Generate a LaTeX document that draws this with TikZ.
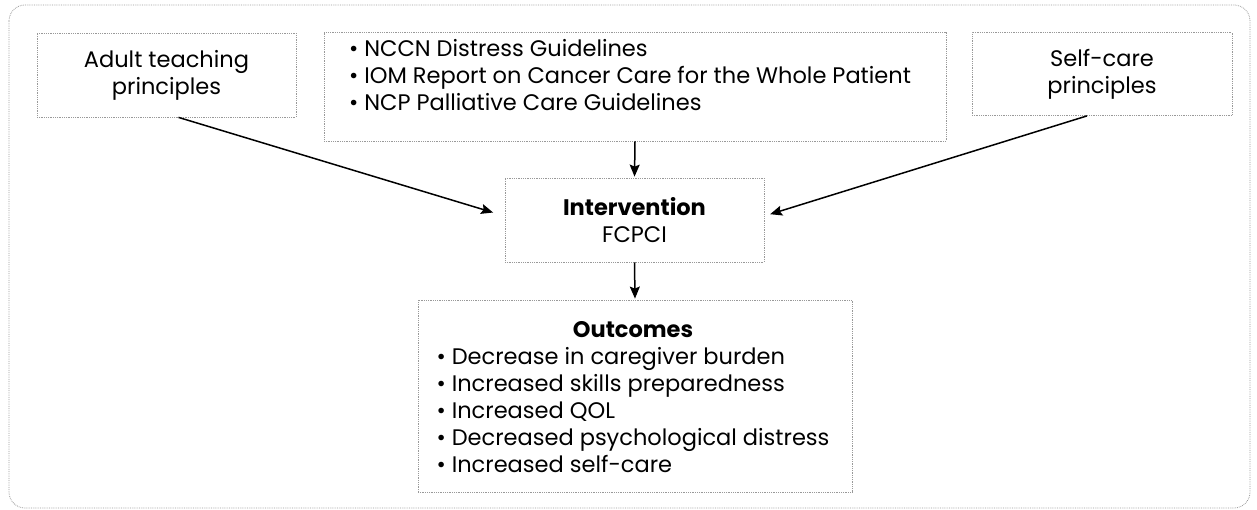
\documentclass[tikz,border=0pt]{standalone}
\usepackage{fontspec}
\setmainfont{Poppins}
\usetikzlibrary{arrows.meta}

\begin{document}
\begin{tikzpicture}[x=1pt,y=-1pt,
    box/.style={draw=gray!80, densely dotted, line width=0.8pt, inner sep=0pt},
    txt/.style={align=center, font=\fontsize{22.5}{27}\selectfont},
    arr/.style={-{Stealth[length=12pt,width=10pt,inset=2pt]}, line width=1.5pt}]

    \useasboundingbox (0,0) rectangle (1257,510);

    % outer frame
    \draw[gray!80, densely dotted, line width=0.8pt, rounded corners=16pt] (9,5) rectangle (1250,508);

    % top row
    \node[box, txt, minimum width=259pt, minimum height=84pt] (adult) at (166.5,75) {Adult teaching\\principles};
    \node[box, minimum width=622pt, minimum height=109pt] (guide) at (635,86.5) {};
    \node[txt, align=left] (guidetext) at (630,75) {\textbullet\ NCCN Distress Guidelines\\\textbullet\ IOM Report on Cancer Care for the Whole Patient\\\textbullet\ NCP Palliative Care Guidelines};
    \node[box, txt, minimum width=260pt, minimum height=83pt] (selfcare) at (1102,74) {Self-care\\principles};

    % middle
    \node[box, txt, minimum width=259pt, minimum height=84pt] (interv) at (634.5,220) {\textbf{Intervention}\\FCPCI};

    % bottom
    \node[box, minimum width=434pt, minimum height=192pt] (outcomes) at (635,396) {};
    \node[txt] (outtext) at (633,400)
        {\begin{tabular}{@{}l@{}}
            \multicolumn{1}{@{}c@{}}{\textbf{Outcomes}}\\
            \textbullet\ Decrease in caregiver burden\\
            \textbullet\ Increased skills preparedness\\
            \textbullet\ Increased QOL\\
            \textbullet\ Decreased psychological distress\\
            \textbullet\ Increased self-care
        \end{tabular}};

    \draw[arr, shorten >=12pt] ([xshift=12pt]adult.south) -- ([yshift=4pt]interv.west);
    \draw[arr, shorten >=6pt] ([xshift=-15pt]selfcare.south) -- ([yshift=4pt]interv.east);
    \draw[arr, shorten >=1pt] (guide.south) -- (interv.north);
    \draw[arr, shorten >=1pt] (interv.south) -- (outcomes.north);

\end{tikzpicture}
\end{document}
